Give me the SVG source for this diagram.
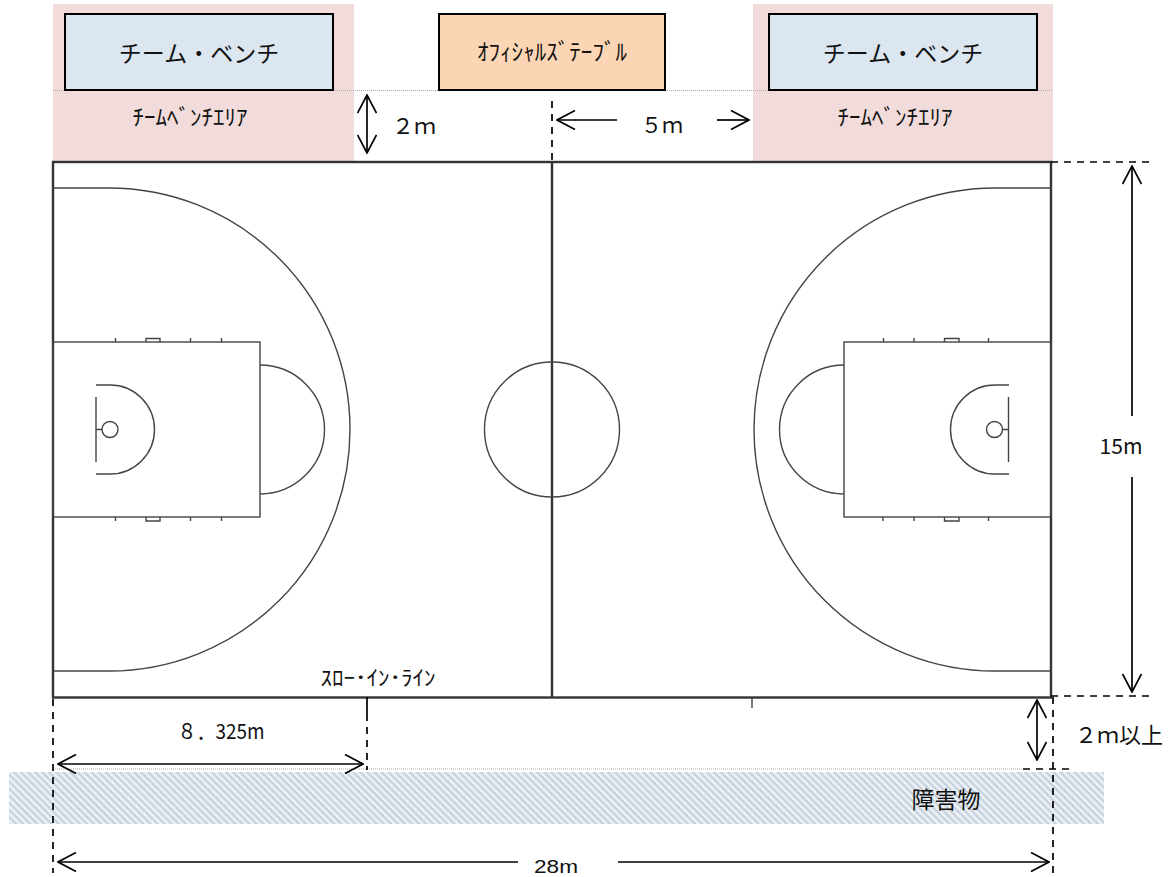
<svg xmlns="http://www.w3.org/2000/svg" width="1173" height="877" viewBox="0 0 1173 877">
<style>
text{font-family:"Noto Sans CJK JP","Liberation Sans",sans-serif;fill:#111;text-anchor:middle}
.box{stroke:#000;stroke-width:2}
.l{fill:none;stroke:#444;stroke-width:1.4}
.c{fill:none;stroke:#333;stroke-width:2.4}
.a{fill:none;stroke:#000;stroke-width:1.7}
.d{fill:none;stroke:#000;stroke-width:1.7;stroke-dasharray:7 6}
.g{fill:none;stroke:#aaa;stroke-width:1;stroke-dasharray:1 1}
</style>
<defs>
<pattern id="h" width="5" height="5" patternUnits="userSpaceOnUse" patternTransform="rotate(45)">
<rect width="5" height="5" fill="#eef2f6"/><rect width="5" height="2.4" fill="#c6d2de"/>
</pattern>
<marker id="ah" viewBox="-19 -10 20 20" markerWidth="20" markerHeight="20" refX="0" refY="0" orient="auto-start-reverse" markerUnits="userSpaceOnUse">
<path d="M-18,-9.500L0,0L-18,9.500" fill="none" stroke="#000" stroke-width="1.7"/>
</marker>
</defs>
<g id="areas">
<rect x="53" y="4" width="301" height="158" fill="#f2dcdb"/>
<rect x="753" y="4" width="300" height="158" fill="#f2dcdb"/>
<rect x="9" y="772" width="1095" height="52" fill="url(#h)"/>
</g>
<g id="court">
<path class="g" d="M53,90.500H1053M53,769H1022"/>
<rect class="c" x="53" y="162" width="998" height="535.500"/>
<path class="c" d="M552,162V697"/>
<circle class="l" cx="552" cy="429.500" r="67.500"/>
<g id="left-half">
<path class="l" d="M53,188H109A241,241.500 0 0 1 109,671H53"/>
<rect class="l" x="53" y="342" width="207" height="175"/>
<path class="l" d="M260,365A64.500,64.500 0 0 1 260,494"/>
<path class="l" d="M96,385H110A44.500,44.500 0 0 1 110,474H96"/>
<path class="l" d="M96,397V462M96,429.500H102"/>
<circle class="l" cx="110" cy="429.500" r="8"/>
<path class="l" d="M115.500,338V342M190.500,338V342M221.500,338V342M115.500,517V521M190.500,517V521M221.500,517V521M146,342V338.500H160V342M146,517V521H160V517"/>
</g>
<g id="right-half">
<path class="l" d="M1051,188H995A241,241.500 0 0 0 995,671H1051"/>
<rect class="l" x="844" y="342" width="207" height="175"/>
<path class="l" d="M844,365A64.500,64.500 0 0 0 844,494"/>
<path class="l" d="M1009,385H995A44.500,44.500 0 0 0 995,474H1009"/>
<path class="l" d="M1008.500,397V462M1008.500,429.500H1002.500"/>
<circle class="l" cx="994.500" cy="429.500" r="8"/>
<path class="l" d="M883.500,338V342M914,338V342M988.500,338V342M883,517V521M914,517V521M988.500,517V521M944.500,342V338.500H959V342M944.500,517V521H959V517"/>
</g>
<path class="l" d="M752,697V708"/>
</g>
<g id="connectors">
<path class="d" d="M552,101V162M1051,162H1155M1051,696H1155M53,699V873M1053,697V873M1023,769H1073"/>
<path class="a" d="M367,697V714"/>
<path class="d" d="M367,714V770"/>
<path class="a" marker-start="url(#ah)" marker-end="url(#ah)" d="M367,95V153"/>
<path class="a" marker-start="url(#ah)" d="M557,120H617"/>
<path class="a" marker-end="url(#ah)" d="M717,120H749"/>
<path class="a" marker-start="url(#ah)" d="M1132,166V416"/>
<path class="a" marker-end="url(#ah)" d="M1132,477V692"/>
<path class="a" marker-start="url(#ah)" marker-end="url(#ah)" d="M58,764H363"/>
<path class="a" marker-start="url(#ah)" marker-end="url(#ah)" d="M1037,700V760"/>
<path class="a" marker-start="url(#ah)" d="M58,862H518"/>
<path class="a" marker-end="url(#ah)" d="M618,862H1049"/>
</g>
<g id="bench-left">
<rect class="box" x="65" y="14" width="268" height="76" fill="#dce6f1"/>
<text x="199" y="62" font-size="23">チーム・ベンチ</text>
</g>
<g id="officials-table">
<rect class="box" x="439" y="14" width="226" height="76" fill="#fcd5b4"/>
<text x="552" y="60" font-size="23" textLength="150" lengthAdjust="spacingAndGlyphs">ｵﾌｨｼｬﾙｽﾞﾃｰﾌﾞﾙ</text>
</g>
<g id="bench-right">
<rect class="box" x="769" y="14" width="268" height="76" fill="#dce6f1"/>
<text x="903" y="62" font-size="23">チーム・ベンチ</text>
</g>
<g id="labels">
<text x="190" y="125" font-size="22" textLength="115" lengthAdjust="spacingAndGlyphs">ﾁｰﾑﾍﾞﾝﾁｴﾘｱ</text>
<text x="895" y="125" font-size="22" textLength="115" lengthAdjust="spacingAndGlyphs">ﾁｰﾑﾍﾞﾝﾁｴﾘｱ</text>
<text x="414" y="134" font-size="22">２ｍ</text>
<text x="662" y="133" font-size="21">５ｍ</text>
<text x="1121" y="454" font-size="21" textLength="43" lengthAdjust="spacingAndGlyphs">15m</text>
<text x="378" y="685" font-size="21" textLength="115" lengthAdjust="spacingAndGlyphs">ｽﾛｰ･ｲﾝ･ﾗｲﾝ</text>
<text x="221" y="739" font-size="21" textLength="87" lengthAdjust="spacingAndGlyphs">８．325m</text>
<text x="1119" y="743" font-size="22">２ｍ以上</text>
<text x="946" y="808" font-size="23">障害物</text>
<text x="556" y="872.500" font-size="19" style="font-family:'Liberation Sans',sans-serif" textLength="44" lengthAdjust="spacingAndGlyphs">28m</text>
</g>
</svg>
